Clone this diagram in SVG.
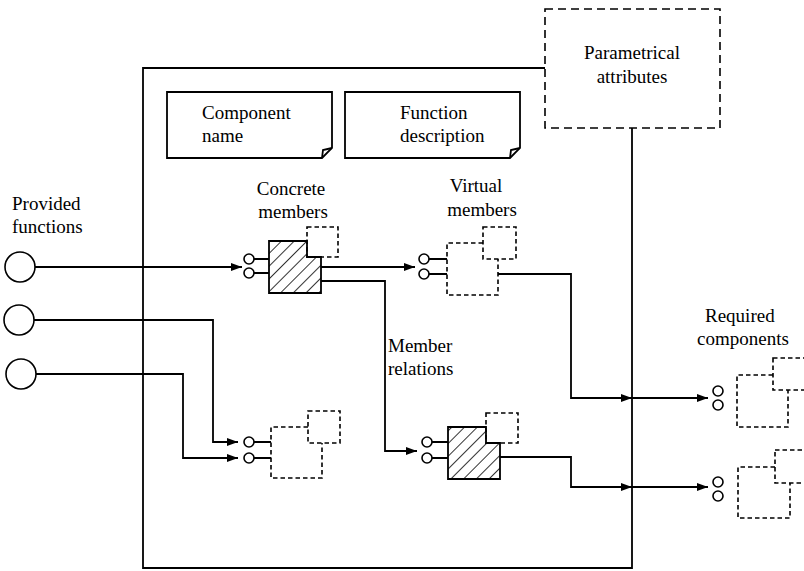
<svg xmlns="http://www.w3.org/2000/svg" width="804" height="571" viewBox="0 0 804 571">
<style>
  .ln{fill:none;stroke:#000;stroke-width:1.8}
  .ds{fill:none;stroke:#000;stroke-width:1.6;stroke-dasharray:4.5 3}
  .dl{fill:none;stroke:#000;stroke-width:1.6;stroke-dasharray:8 5}
  .pt{fill:#fff;stroke:#000;stroke-width:1.6}
  .tx{font-family:"Liberation Serif","Times New Roman",serif;font-size:19px;fill:#000}
  .mid{text-anchor:middle}
</style>
<defs>
  <marker id="ar" markerUnits="userSpaceOnUse" markerWidth="11" markerHeight="8" refX="11" refY="4" orient="auto">
    <path d="M0,0 L11,4 L0,8 z" fill="#000"/>
  </marker>
  <pattern id="hatch" width="9" height="9" patternUnits="userSpaceOnUse" patternTransform="rotate(45)">
    <line x1="0" y1="0" x2="0" y2="9" stroke="#000" stroke-width="1.6"/>
  </pattern>
</defs>
<rect width="804" height="571" fill="#fff"/>

<g id="component-boundary">
  <path class="ln" d="M545,68 H143 V568 H632 V128"/>
</g>

<g id="parametrical-attributes">
  <rect class="dl" x="545" y="9" width="175" height="119"/>
  <text class="tx mid" x="632" y="59">Parametrical</text>
  <text class="tx mid" x="632" y="83">attributes</text>
</g>

<g id="component-name">
  <path class="ln" d="M167,92 H332 V148 L322,158 H167 Z"/>
  <path class="ln" d="M322,158 L323,150 L332,148"/>
  <text class="tx" x="202" y="119">Component</text>
  <text class="tx" x="202" y="142">name</text>
</g>

<g id="function-description">
  <path class="ln" d="M345,92 H520 V148 L510,158 H345 Z"/>
  <path class="ln" d="M510,158 L511,150 L520,148"/>
  <text class="tx" x="400" y="119">Function</text>
  <text class="tx" x="400" y="142">description</text>
</g>

<g id="provided-functions">
  <text class="tx" x="12" y="210">Provided</text>
  <text class="tx" x="12" y="233">functions</text>
  <circle class="pt" cx="20" cy="267" r="15"/>
  <circle class="pt" cx="19" cy="320" r="15"/>
  <circle class="pt" cx="21" cy="374" r="15"/>
</g>

<g id="concrete-member-1">
  <text class="tx mid" x="291" y="195">Concrete</text>
  <text class="tx mid" x="293" y="218">members</text>
  <path class="ln" d="M254,259 H269 M254,273 H269"/>
  <circle class="pt" cx="249" cy="259" r="5"/>
  <circle class="pt" cx="249" cy="273" r="5"/>
  <rect class="ds" x="307" y="227" width="31" height="30"/>
  <path d="M269,241 H307 V257 H321 V293 H269 Z" fill="url(#hatch)" stroke="#000" stroke-width="1.8"/>
</g>

<g id="virtual-member-1">
  <text class="tx mid" x="476" y="192">Virtual</text>
  <text class="tx mid" x="482" y="216">members</text>
  <path class="ln" d="M429,259 H447 M429,274 H447"/>
  <circle class="pt" cx="424" cy="259" r="5"/>
  <circle class="pt" cx="424" cy="274" r="5"/>
  <rect class="ds" x="483" y="227" width="33" height="32"/>
  <path class="ds" d="M483,243 H447 V295 H498 V259"/>
</g>

<g id="virtual-member-2">
  <path class="ln" d="M254,442 H271 M254,458 H271"/>
  <circle class="pt" cx="249" cy="442" r="5"/>
  <circle class="pt" cx="249" cy="458" r="5"/>
  <rect class="ds" x="308" y="411" width="32" height="32"/>
  <path class="ds" d="M308,427 H271 V478 H322 V443"/>
</g>

<g id="concrete-member-2">
  <path class="ln" d="M432,442 H448 M432,458 H448"/>
  <circle class="pt" cx="427" cy="442" r="5"/>
  <circle class="pt" cx="427" cy="458" r="5"/>
  <rect class="ds" x="486" y="413" width="32" height="30"/>
  <path d="M448,427 H486 V443 H500 V479 H448 Z" fill="url(#hatch)" stroke="#000" stroke-width="1.8"/>
</g>

<g id="member-relations-label">
  <text class="tx" x="388" y="352">Member</text>
  <text class="tx" x="388" y="375">relations</text>
</g>

<g id="required-components">
  <text class="tx" x="705" y="322">Required</text>
  <text class="tx" x="697" y="345">components</text>
  <circle class="pt" cx="718" cy="391" r="5"/>
  <circle class="pt" cx="718" cy="405" r="5"/>
  <rect class="ds" x="773" y="358" width="34" height="32"/>
  <path class="ds" d="M773,375 H737 V427 H788 V390"/>
  <circle class="pt" cx="718" cy="482" r="5"/>
  <circle class="pt" cx="718" cy="496" r="5"/>
  <rect class="ds" x="775" y="450" width="34" height="33"/>
  <path class="ds" d="M775,467 H738 V518 H790 V483"/>
</g>

<g id="connectors">
  <path class="ln" d="M35,267 H242" marker-end="url(#ar)"/>
  <path class="ln" d="M34,320 H213 V442 H238" marker-end="url(#ar)"/>
  <path class="ln" d="M36,374 H183 V458 H238" marker-end="url(#ar)"/>
  <path class="ln" d="M321,267 H415" marker-end="url(#ar)"/>
  <path class="ln" d="M321,281 H385 V451 H417" marker-end="url(#ar)"/>
  <path class="ln" d="M498,274 H571 V398 H632" marker-end="url(#ar)"/>
  <path class="ln" d="M632,398 H708" marker-end="url(#ar)"/>
  <path class="ln" d="M500,457 H571 V487 H632" marker-end="url(#ar)"/>
  <path class="ln" d="M632,487 H708" marker-end="url(#ar)"/>
</g>
</svg>
